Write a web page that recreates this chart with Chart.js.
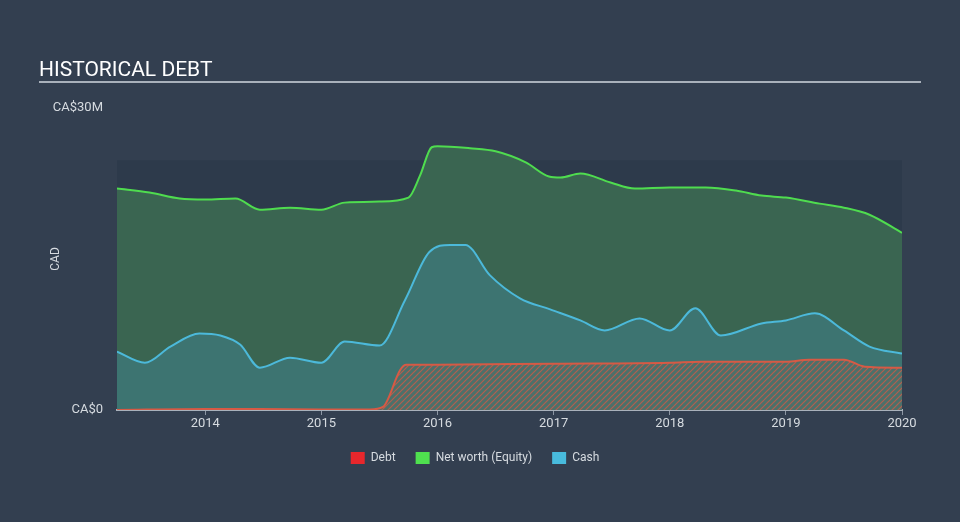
<!DOCTYPE html>
<html lang="en">
<head>
    <meta charset="UTF-8">
    <title>Historical Debt</title>
    <script src="https://cdn.jsdelivr.net/npm/chart.js"></script>
    <style>
        body {
            margin: 0;
            background-color: #333f50;
            font-family: Roboto, Arial, sans-serif;
        }

        .wrap {
            width: 960px;
            height: 522px;
        }
    </style>
</head>
<body>
<div class="wrap"><canvas id="debtChart" width="960" height="522"></canvas></div>

<script>
    // data (x = decimal year, values in CA$M)
    const netWorthX = [2013.24, 2013.52, 2013.78, 2014.0, 2014.26, 2014.47, 2014.73, 2015.0, 2015.2, 2015.5, 2015.75, 2015.85, 2015.95, 2016.0, 2016.28, 2016.5, 2016.76, 2016.96, 2017.06, 2017.23, 2017.49, 2017.7, 2018.0, 2018.31, 2018.57, 2018.79, 2019.0, 2019.29, 2019.5, 2019.72, 2020.0];
    const netWorth = [22.0, 21.6, 21.0, 20.9, 21.0, 19.9, 20.1, 19.9, 20.6, 20.7, 21.1, 23.3, 26.1, 26.2, 26.0, 25.7, 24.6, 23.2, 23.1, 23.5, 22.6, 22.0, 22.1, 22.1, 21.8, 21.3, 21.1, 20.5, 20.1, 19.4, 17.6];

    const cashX = [2013.24, 2013.48, 2013.7, 2013.95, 2014.13, 2014.3, 2014.47, 2014.73, 2015.0, 2015.2, 2015.5, 2015.72, 2015.93, 2016.11, 2016.24, 2016.45, 2016.71, 2016.97, 2017.23, 2017.44, 2017.74, 2018.0, 2018.22, 2018.44, 2018.79, 2019.0, 2019.25, 2019.5, 2019.72, 2020.0];
    const cash = [5.8, 4.7, 6.3, 7.6, 7.4, 6.5, 4.2, 5.2, 4.7, 6.8, 6.4, 10.9, 15.7, 16.4, 16.4, 13.4, 11.1, 10.0, 8.9, 7.9, 9.1, 7.9, 10.1, 7.4, 8.6, 8.9, 9.6, 7.9, 6.3, 5.6];

    const debtX = [2013.24, 2014.0, 2014.47, 2015.0, 2015.42, 2015.53, 2015.68, 2015.73, 2016.0, 2017.0, 2018.0, 2018.27, 2019.0, 2019.2, 2019.5, 2019.68, 2020.0];
    const debt = [0, 0.1, 0.1, 0.05, 0.05, 0.3, 4.0, 4.5, 4.5, 4.6, 4.7, 4.8, 4.8, 5.0, 5.0, 4.3, 4.2];

    const yearTicks = [2014, 2015, 2016, 2017, 2018, 2019, 2020];
    const valueTicks = [0, 30];

    const pts = (xs, ys) => xs.map((x, i) => ({x: x, y: ys[i]}));

    // red diagonal hatch for the debt area
    function hatch() {
        const c = document.createElement('canvas');
        c.width = 6;
        c.height = 6;
        const g = c.getContext('2d');
        g.fillStyle = 'rgba(90,110,100,0.55)';
        g.fillRect(0, 0, 6, 6);
        g.strokeStyle = 'rgba(215,90,70,0.75)';
        g.lineWidth = 1.2;
        g.beginPath();
        g.moveTo(0, 6); g.lineTo(6, 0);
        g.moveTo(-3, 3); g.lineTo(3, -3);
        g.moveTo(3, 9); g.lineTo(9, 3);
        g.stroke();
        return g.createPattern(c, 'repeat');
    }

    // page background, darker plot band, title, axis name
    const backdrop = {
        id: 'backdrop',
        afterLayout(chart) {
            // legend sits centred on the page, not on the plot
            chart.legend.left += 24;
            chart.legend.right += 24;
        },
        beforeDraw(chart) {
            const ctx = chart.ctx;
            const a = chart.chartArea;
            const y = chart.scales.y;
            ctx.save();
            ctx.fillStyle = '#333f50';
            ctx.fillRect(0, 0, chart.width, chart.height);
            const top = y.getPixelForValue(24.8);
            ctx.fillStyle = '#2d3a4b';
            ctx.fillRect(a.left, top, a.right - a.left, a.bottom - top);

            ctx.fillStyle = '#ffffff';
            ctx.font = '21px Roboto, sans-serif';
            ctx.textBaseline = 'alphabetic';
            ctx.fillText('HISTORICAL DEBT', 39, 76);
            ctx.strokeStyle = '#a9b1bb';
            ctx.lineWidth = 2;
            ctx.beginPath();
            ctx.moveTo(39, 82);
            ctx.lineTo(921, 82);
            ctx.stroke();

            ctx.translate(56, (a.top + a.bottom) / 2);
            ctx.rotate(-Math.PI / 2);
            ctx.fillStyle = '#d6dbe0';
            ctx.font = '12px Roboto, sans-serif';
            ctx.textAlign = 'center';
            ctx.textBaseline = 'middle';
            ctx.fillText('CAD', 0, 0);
            ctx.restore();
        }
    };

    new Chart(document.getElementById('debtChart'), {
        type: 'line',
        data: {
            datasets: [{
                label: 'Debt',
                data: pts(debtX, debt),
                borderColor: '#d65a45',
                backgroundColor: hatch(),
                borderWidth: 2,
                fill: 'origin',
                order: 1
            }, {
                label: 'Net worth (Equity)',
                data: pts(netWorthX, netWorth),
                borderColor: '#4fdc4f',
                backgroundColor: '#3a6551',
                borderWidth: 2,
                fill: 'origin',
                order: 3
            }, {
                label: 'Cash',
                data: pts(cashX, cash),
                borderColor: '#4cb9da',
                backgroundColor: '#3d7471',
                borderWidth: 2,
                fill: 'origin',
                order: 2
            }]
        },
        options: {
            responsive: false,
            animation: false,
            layout: {padding: {top: 108, right: 58, bottom: 48}},
            elements: {
                point: {radius: 0},
                line: {tension: 0.4, cubicInterpolationMode: 'monotone'}
            },
            scales: {
                x: {
                    type: 'linear',
                    min: 2013.24,
                    max: 2020.0,
                    afterBuildTicks: s => { s.ticks = yearTicks.map(v => ({value: v})); },
                    afterFit: s => { s.height = 22; },
                    grid: {display: true, drawOnChartArea: false, drawTicks: true, tickLength: 5, color: '#8d97a4'},
                    border: {display: true, color: '#a9b1bb', width: 2},
                    ticks: {color: '#d6dbe0', font: {size: 13, family: 'Roboto'}, padding: 1, callback: v => String(v)}
                },
                y: {
                    min: 0,
                    max: 30,
                    afterBuildTicks: s => { s.ticks = valueTicks.map(v => ({value: v})); },
                    afterFit: s => { s.width = 117; },
                    grid: {display: false},
                    border: {display: false},
                    ticks: {
                        color: '#d6dbe0',
                        font: {size: 13, family: 'Roboto'},
                        padding: 6,
                        callback: v => v === 0 ? 'CA$0' : 'CA$' + v + 'M'
                    }
                }
            },
            plugins: {
                legend: {
                    position: 'bottom',
                    labels: {
                        color: '#d6dbe0',
                        font: {size: 12, family: 'Roboto'},
                        boxWidth: 14,
                        boxHeight: 12,
                        padding: 20,
                        generateLabels: chart => chart.data.datasets.map((d, i) => ({
                            text: d.label,
                            fillStyle: ['#e8272c', '#4fe04f', '#48bbdd'][i],
                            strokeStyle: 'transparent',
                            lineWidth: 0,
                            fontColor: '#d6dbe0',
                            datasetIndex: i
                        }))
                    }
                },
                tooltip: {enabled: false}
            }
        },
        plugins: [backdrop]
    });
</script>
</body>
</html>
